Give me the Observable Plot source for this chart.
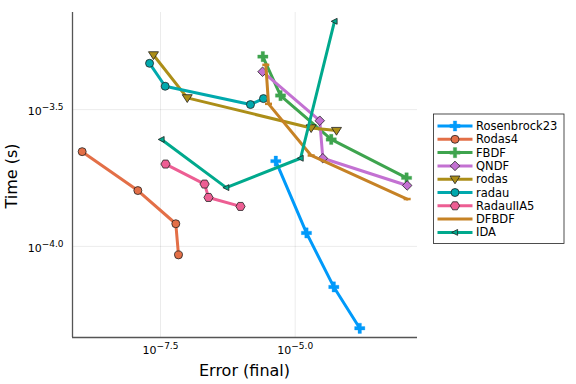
<!DOCTYPE html>
<html>
<head>
<meta charset="utf-8">
<script src="https://cdn.jsdelivr.net/npm/d3@7"></script>
<script src="https://cdn.jsdelivr.net/npm/@observablehq/plot@0.6"></script>
<style>
  html, body { margin: 0; padding: 0; background: #fff; }
  svg { font-family: "DejaVu Sans", sans-serif; }
</style>
</head>
<body>
<div id="chart"></div>
<script>
// ---- data (error, time) ----
const seriesNames = ["Rosenbrock23","Rodas4","FBDF","QNDF","rodas","radau","RadauIIA5","DFBDF","IDA"];
const seriesColors = ["#009AFA","#E36F47","#3EA44E","#C371D2","#AC8E18","#00A9AD","#ED5E93","#C68225","#00A98D"];
const seriesMarkers = ["cross","circle","cross","diamond","dtriangle","circle","hexagon","hline","ltriangle"];

const errRosenbrock23 = [4.37e-6, 1.62e-5, 5.21e-5, 1.58e-4];
const timeRosenbrock23 = [2.05e-4, 1.12e-4, 7.11e-5, 5.02e-5];
const errRodas4 = [1.11e-9, 1.20e-8, 6.08e-8, 6.82e-8];
const timeRodas4 = [2.22e-4, 1.60e-4, 1.21e-4, 9.31e-5];
const errFBDF = [2.51e-6, 5.35e-6, 4.67e-5, 1.17e-3];
const timeFBDF = [4.94e-4, 3.56e-4, 2.46e-4, 1.78e-4];
const errQNDF = [2.48e-6, 2.86e-5, 3.26e-5, 1.20e-3];
const timeQNDF = [4.35e-4, 2.88e-4, 2.10e-4, 1.67e-4];
const errRodas = [2.34e-8, 9.91e-8, 1.98e-5, 5.85e-5];
const timeRodas = [5.01e-4, 3.49e-4, 2.71e-4, 2.65e-4];
const errRadau = [1.98e-8, 3.86e-8, 1.48e-6, 2.58e-6];
const timeRadau = [4.67e-4, 3.85e-4, 3.30e-4, 3.47e-4];
const errRadauIIA5 = [3.92e-8, 2.08e-7, 2.46e-7, 9.66e-7];
const timeRadauIIA5 = [2.00e-4, 1.69e-4, 1.51e-4, 1.40e-4];
const errDFBDF = [2.85e-6, 3.20e-6, 1.98e-5, 1.20e-3];
const timeDFBDF = [4.61e-4, 3.32e-4, 2.15e-4, 1.49e-4];
const errIDA = [3.30e-8, 5.25e-7, 1.26e-5, 5.37e-5];
const timeIDA = [2.46e-4, 1.64e-4, 2.10e-4, 6.65e-4];

const seriesErr = [errRosenbrock23, errRodas4, errFBDF, errQNDF, errRodas, errRadau, errRadauIIA5, errDFBDF, errIDA];
const seriesTime = [timeRosenbrock23, timeRodas4, timeFBDF, timeQNDF, timeRodas, timeRadau, timeRadauIIA5, timeDFBDF, timeIDA];

const xTicks = [10 ** -7.5, 10 ** -5.0];
const xTickLabels = ["10^−7.5", "10^−5.0"];
const yTicks = [10 ** -4.0, 10 ** -3.5];
const yTickLabels = ["10^−4.0", "10^−3.5"];
const xDomain = [10 ** -9.134, 10 ** -2.729];
const yDomain = [10 ** -4.333, 10 ** -3.145];
const xLabel = "Error (final)";
const yLabel = "Time (s)";

// ---- custom symbols ----
const dtriangle = { draw(ctx, size) { const r = Math.sqrt(size / Math.PI);
  ctx.moveTo(0, r * 1.15); ctx.lineTo(-r * 1.25, -r * 0.8); ctx.lineTo(r * 1.25, -r * 0.8); ctx.closePath(); } };
const ltriangle = { draw(ctx, size) { const r = Math.sqrt(size / Math.PI);
  ctx.moveTo(-r * 1.0, 0); ctx.lineTo(r * 0.8, -r * 0.9); ctx.lineTo(r * 0.8, r * 0.9); ctx.closePath(); } };
const hline = { draw(ctx, size) { const r = Math.sqrt(size / Math.PI);
  ctx.moveTo(-r, 0); ctx.lineTo(r, 0); } };
const hexagon = { draw(ctx, size) { const r = Math.sqrt(size / Math.PI) * 1.05;
  for (let k = 0; k < 6; k++) { const a = Math.PI / 3 * k + Math.PI / 6;
    const px = r * Math.sin(a), py = -r * Math.cos(a);
    if (k === 0) ctx.moveTo(px, py); else ctx.lineTo(px, py); } ctx.closePath(); } };

function markerOpts(m, color) {
  switch (m) {
    case "cross": return {symbol: d3.symbolCross, r: 4.3, fill: color, stroke: color, strokeWidth: 0.3};
    case "circle": return {symbol: d3.symbolCircle, r: 4, fill: color, stroke: "#222", strokeWidth: 0.8};
    case "diamond": return {symbol: d3.symbolDiamond2, r: 4.3, fill: color, stroke: "#222", strokeWidth: 0.8};
    case "hexagon": return {symbol: hexagon, r: 4.4, fill: color, stroke: "#222", strokeWidth: 0.8};
    case "dtriangle": return {symbol: dtriangle, r: 4, fill: color, stroke: "#222", strokeWidth: 0.8};
    case "ltriangle": return {symbol: ltriangle, r: 3.3, fill: color, stroke: "#222", strokeWidth: 0.8};
    case "hline": return {symbol: hline, r: 3.5, fill: "none", stroke: color, strokeWidth: 2.5};
  }
}

const marks = [
  Plot.gridX(xTicks, {stroke: "#000", strokeOpacity: 0.08, strokeWidth: 1}),
  Plot.gridY(yTicks, {stroke: "#000", strokeOpacity: 0.08, strokeWidth: 1}),
  Plot.text(xTicks, {x: d => d, frameAnchor: "bottom", dy: 16, fontSize: 11, fill: "#000",
    textAnchor: "middle", text: (d, i) => xTickLabels[i]}),
  Plot.text(yTicks, {y: d => d, frameAnchor: "left", dx: -9, dy: 2, fontSize: 11, fill: "#000",
    textAnchor: "end", text: (d, i) => yTickLabels[i]}),
  Plot.ruleX([xDomain[0]], {stroke: "#555", strokeWidth: 1.3}),
  Plot.ruleY([yDomain[0]], {stroke: "#555", strokeWidth: 1.3})
];

seriesNames.forEach((name, s) => {
  const data = seriesErr[s].map((e, i) => ({err: e, time: seriesTime[s][i]}));
  const color = seriesColors[s];
  marks.push(Plot.line(data, {x: "err", y: "time", stroke: color, strokeWidth: 3, strokeLinejoin: "round", curve: "linear"}));
  marks.push(Plot.dot(data, {x: "err", y: "time", ...markerOpts(seriesMarkers[s], color)}));
});

const chart = Plot.plot({
  width: 576, height: 384,
  marginLeft: 72, marginRight: 159, marginTop: 12, marginBottom: 47,
  x: {type: "log", domain: xDomain, axis: null},
  y: {type: "log", domain: yDomain, axis: null},
  style: {fontFamily: "'DejaVu Sans', sans-serif", color: "#000", background: "#fff"},
  marks
});

const svg = d3.select(chart);

// superscript exponents in tick labels
svg.selectAll("text").each(function () {
  const t = d3.select(this);
  const s = t.text();
  if (!s.includes("^")) return;
  const [base, exp] = s.split("^");
  t.text(null);
  t.append("tspan").attr("font-size", 11).text(base);
  t.append("tspan").attr("dy", "-0.55em").attr("font-size", 9).text(exp);
});

// axis titles
svg.append("text").attr("x", 244.5).attr("y", 376).attr("text-anchor", "middle")
  .attr("font-size", 16).attr("fill", "#000").text(xLabel);
svg.append("text").attr("transform", "translate(17,176) rotate(-90)").attr("text-anchor", "middle")
  .attr("font-size", 16).attr("fill", "#000").text(yLabel);

// legend
const lg = svg.append("g").attr("text-anchor", "start");
lg.append("rect").attr("x", 433.5).attr("y", 114).attr("width", 130.5).attr("height", 129.5)
  .attr("fill", "#fff").attr("stroke", "#222").attr("stroke-width", 0.8);
seriesNames.forEach((name, s) => {
  const y = 126 + s * 13.3;
  const color = seriesColors[s];
  lg.append("line").attr("x1", 437.5).attr("x2", 472.5).attr("y1", y).attr("y2", y)
    .attr("stroke", color).attr("stroke-width", 3);
  const mo = markerOpts(seriesMarkers[s], color);
  if (seriesMarkers[s] !== "hline") {
    lg.append("path").attr("transform", `translate(455,${y})`)
      .attr("d", d3.symbol(mo.symbol, Math.PI * mo.r * mo.r)())
      .attr("fill", mo.fill).attr("stroke", mo.stroke).attr("stroke-width", mo.strokeWidth);
  }
  lg.append("text").attr("x", 476).attr("y", y).attr("dy", "0.35em").attr("text-anchor", "start")
    .attr("font-size", 11.5).attr("fill", "#000").text(name);
});

document.getElementById("chart").appendChild(chart);
</script>
</body>
</html>
